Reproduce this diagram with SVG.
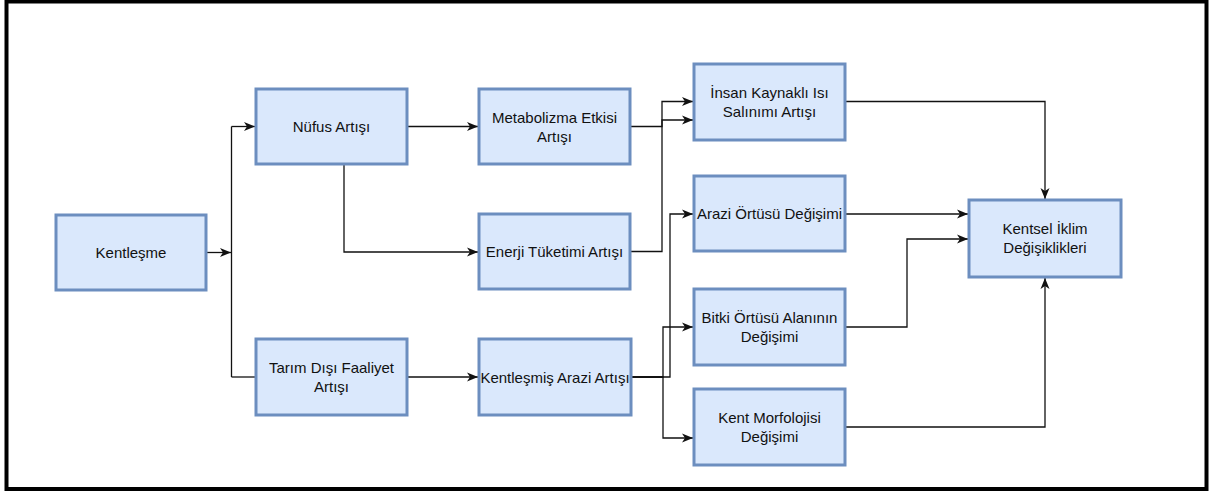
<svg xmlns="http://www.w3.org/2000/svg" width="1210" height="493" viewBox="0 0 1210 493">
<style>
.box{fill:#dae8fc;stroke:#6c8ebf;stroke-width:3}
.t{font-family:"Liberation Sans",Arial,sans-serif;font-size:15px;fill:#111;text-anchor:middle}
.c{fill:none;stroke:#111;stroke-width:1.3}
.a{marker-end:url(#arr)}
</style>
<defs>
<marker id="arr" markerUnits="userSpaceOnUse" markerWidth="12" markerHeight="10" viewBox="0 0 12 10" refX="11" refY="5" orient="auto">
<path d="M0,0.5 L11,5 L0,9.5 L3,5 z" fill="#111"/>
</marker>
</defs>
<rect x="0" y="0" width="1210" height="493" fill="#fff"/>
<rect x="6.5" y="1.5" width="1200" height="487.5" fill="#fff" stroke="#000" stroke-width="4"/>
<g id="connectors">
<path class="c a" d="M206,252.5 H231"/>
<path class="c" d="M231.5,377 V126.5"/>
<path class="c a" d="M231.5,126.5 H255"/>
<path class="c" d="M231.5,377 H256"/>
<path class="c a" d="M407,126.5 H478"/>
<path class="c a" d="M344,164 V252 H478"/>
<path class="c a" d="M407,377 H478"/>
<path class="c a" d="M631,126.5 H662 V101.5 H693"/>
<path class="c a" d="M631,251.5 H662 V120 H693"/>
<path class="c a" d="M632,377 H670 V214 H693"/>
<path class="c a" d="M632,377 H663 V327 H693"/>
<path class="c a" d="M632,377 H663 V438 H693"/>
<path class="c a" d="M846,101.5 H1045 V199"/>
<path class="c a" d="M846,214 H968"/>
<path class="c a" d="M846,327 H907 V239 H968"/>
<path class="c a" d="M846,427 H1045 V278"/>
</g>
<g id="kentlesme"><rect class="box" x="56" y="215" width="150" height="75"/><text class="t" x="131" y="258">Kentleşme</text></g>
<g id="nufus"><rect class="box" x="256" y="89" width="151" height="75"/><text class="t" x="331.5" y="132">Nüfus Artışı</text></g>
<g id="tarim"><rect class="box" x="256" y="339" width="151" height="76"/><text class="t" x="331.5" y="373">Tarım Dışı Faaliyet</text><text class="t" x="331.5" y="392">Artışı</text></g>
<g id="metabolizma"><rect class="box" x="479" y="89" width="151" height="75"/><text class="t" x="554.5" y="122.5">Metabolizma Etkisi</text><text class="t" x="554.5" y="141.5">Artışı</text></g>
<g id="enerji"><rect class="box" x="479" y="214" width="151" height="75"/><text class="t" x="554.5" y="257">Enerji Tüketimi Artışı</text></g>
<g id="kentlesmis"><rect class="box" x="479" y="339" width="152" height="76"/><text class="t" x="555" y="382.5">Kentleşmiş Arazi Artışı</text></g>
<g id="insan"><rect class="box" x="694" y="64" width="151" height="76"/><text class="t" x="769.5" y="98">İnsan Kaynaklı Isı</text><text class="t" x="769.5" y="117">Salınımı Artışı</text></g>
<g id="arazi"><rect class="box" x="694" y="176" width="151" height="75"/><text class="t" x="769.5" y="219">Arazi Örtüsü Değişimi</text></g>
<g id="bitki"><rect class="box" x="694" y="289" width="151" height="76"/><text class="t" x="769.5" y="323">Bitki Örtüsü Alanının</text><text class="t" x="769.5" y="342">Değişimi</text></g>
<g id="morfoloji"><rect class="box" x="694" y="389" width="151" height="76"/><text class="t" x="769.5" y="423">Kent Morfolojisi</text><text class="t" x="769.5" y="442">Değişimi</text></g>
<g id="iklim"><rect class="box" x="969" y="200" width="152" height="77"/><text class="t" x="1045" y="234">Kentsel İklim</text><text class="t" x="1045" y="253">Değişiklikleri</text></g>
</svg>
